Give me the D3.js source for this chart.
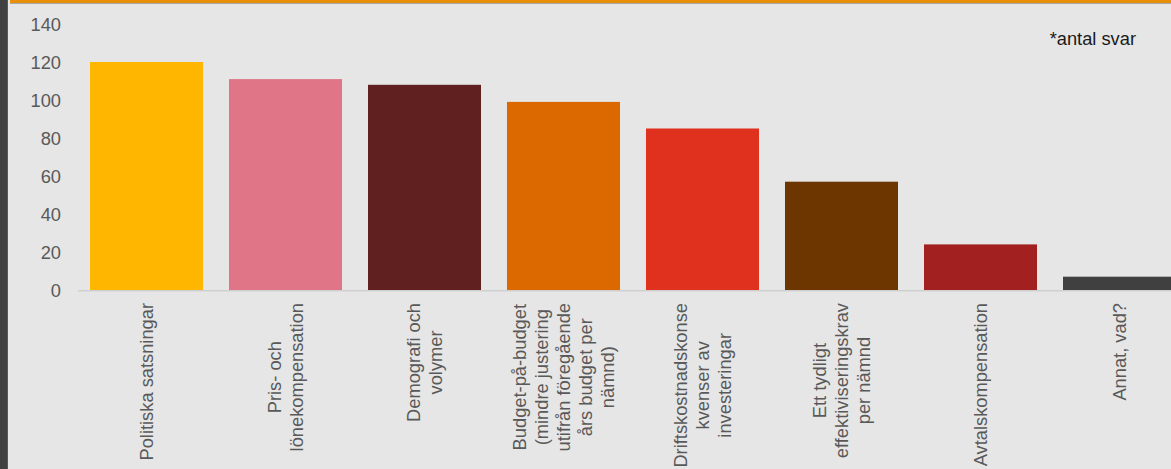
<!DOCTYPE html>
<html>
<head>
<meta charset="utf-8">
<script src="https://cdn.jsdelivr.net/npm/d3@7"></script>
<style>
  html, body { margin: 0; padding: 0; background: #e6e6e6; overflow: hidden; }
  svg { display: block; }
  text { font-family: "Liberation Sans", Arial, sans-serif; }
</style>
</head>
<body>
<svg id="chart" width="1171" height="469"></svg>
<script>
const categories = [
  ["Politiska satsningar"],
  ["Pris- och", "lönekompensation"],
  ["Demografi och", "volymer"],
  ["Budget-på-budget", "(mindre justering", "utifrån föregående", "års budget per", "nämnd)"],
  ["Driftskostnadskonse", "kvenser av", "investeringar"],
  ["Ett tydligt", "effektiviseringskrav", "per nämnd"],
  ["Avtalskompensation"],
  ["Annat, vad?"]
];
const values = [120, 111, 108, 99, 85, 57, 24, 7];
const colors = ["#FFB600", "#E07588", "#602020", "#DC6900", "#E0301E", "#6D3500", "#A32020", "#404040"];
const yTicks = [0, 20, 40, 60, 80, 100, 120, 140];
const note = "*antal svar";

const W = 1171, H = 469;
const svg = d3.select("#chart");

// background
svg.append("rect").attr("x", 0).attr("y", 0).attr("width", W).attr("height", H).attr("fill", "#e6e6e6");

const idx = d3.range(categories.length);
const x = d3.scaleBand().domain(idx).range([77, 1189]).paddingInner(0.187).paddingOuter(0.0935);
const y = d3.scaleLinear().domain([0, 140]).range([290, 24]);

// bars
svg.append("g").selectAll("rect").data(idx).join("rect")
  .attr("x", i => x(i))
  .attr("y", i => y(values[i]))
  .attr("width", x.bandwidth())
  .attr("height", i => y(0) - y(values[i]))
  .attr("fill", i => colors[i]);

// baseline
svg.append("line")
  .attr("x1", 78).attr("x2", W)
  .attr("y1", y(0) + 0.75).attr("y2", y(0) + 0.75)
  .attr("stroke", "#cfcfcf").attr("stroke-width", 1.5);

// y axis tick labels
const yAxis = d3.axisLeft(y).tickValues(yTicks).tickSize(0).tickPadding(0);
const gy = svg.append("g").attr("transform", "translate(61,0)").call(yAxis);
gy.select(".domain").remove();
gy.selectAll("text")
  .attr("font-size", "18.3px")
  .attr("fill", "#595959")
  .attr("font-family", "\"Liberation Sans\", Arial, sans-serif")
  .attr("dy", "0.36em");

// category labels (rotated)
const labelTop = 303;
const lineGap = 22;
idx.forEach(i => {
  const lines = categories[i];
  const cx = x(i) + x.bandwidth() / 2;
  const g = svg.append("g");
  const texts = lines.map((ln, j) => {
    const lx = cx + (j - (lines.length - 1) / 2) * lineGap;
    return g.append("text")
      .attr("transform", `translate(${lx},0) rotate(-90)`)
      .attr("text-anchor", "middle")
      .attr("dy", "0.36em")
      .attr("font-size", "18.3px")
      .attr("fill", "#595959")
      .text(ln);
  });
  const maxW = d3.max(texts, t => t.node().getComputedTextLength());
  texts.forEach(t => t.attr("x", -(labelTop + maxW / 2)));
});

// note
svg.append("text")
  .attr("x", 1136).attr("y", 45)
  .attr("text-anchor", "end")
  .attr("font-size", "18.3px")
  .attr("fill", "#1a1a1a")
  .text(note);

// frame decorations: left dark strip and top orange band
svg.append("rect").attr("x", 0).attr("y", 0).attr("width", 7).attr("height", H).attr("fill", "#404040");
svg.append("rect").attr("x", 7).attr("y", 0).attr("width", 1).attr("height", H).attr("fill", "#8a4a2a");
svg.append("rect").attr("x", 10).attr("y", 0).attr("width", W - 10).attr("height", 3).attr("fill", "#E8900A");
svg.append("rect").attr("x", 10).attr("y", 3).attr("width", W - 10).attr("height", 1).attr("fill", "#a8a8a8");
</script>
</body>
</html>
